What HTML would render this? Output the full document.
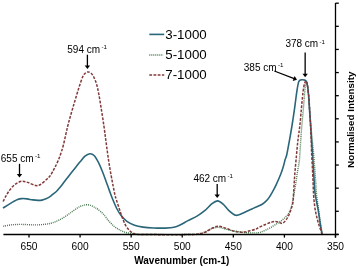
<!DOCTYPE html>
<html><head><meta charset="utf-8"><style>
html,body{margin:0;padding:0;background:#fff;}
body{width:358px;height:267px;overflow:hidden;position:relative;}
svg{position:absolute;left:0;top:0;will-change:transform;}
text{font-family:"Liberation Sans",sans-serif;fill:#000;}
.tk{font-size:10.2px;text-anchor:middle;}
.lg{font-size:13.3px;}
.an{font-size:10px;}
.sup{font-size:6.2px;}
.ti{font-size:10px;font-weight:bold;}
</style></head><body>
<svg width="358" height="267" viewBox="0 0 358 267">
<path d="M3.10,226.30 C4.45,226.07 8.22,225.22 11.20,224.90 C14.18,224.58 17.05,224.40 21.00,224.40 C24.95,224.40 30.90,224.92 34.90,224.90 C38.90,224.88 42.15,224.63 45.00,224.30 C47.85,223.97 49.67,223.60 52.00,222.90 C54.33,222.20 56.67,221.25 59.00,220.10 C61.33,218.95 63.68,217.50 66.00,216.00 C68.32,214.50 70.58,212.68 72.90,211.10 C75.22,209.52 77.68,207.55 79.90,206.50 C82.12,205.45 84.33,204.97 86.20,204.80 C88.07,204.63 89.63,205.03 91.10,205.50 C92.57,205.97 93.92,207.00 95.00,207.60 C96.08,208.20 96.23,208.03 97.60,209.10 C98.97,210.17 101.33,212.02 103.20,214.00 C105.07,215.98 106.95,218.92 108.80,221.00 C110.65,223.08 112.45,225.00 114.30,226.50 C116.15,228.00 118.03,229.02 119.90,230.00 C121.77,230.98 123.63,231.82 125.50,232.40 C127.37,232.98 129.23,233.20 131.10,233.50 C132.97,233.80 134.38,234.03 136.70,234.20 C139.02,234.37 136.12,234.45 145.00,234.50 C153.88,234.55 180.83,234.67 190.00,234.50 C199.17,234.33 197.33,234.00 200.00,233.50 C202.67,233.00 204.00,232.33 206.00,231.50 C208.00,230.67 209.83,229.18 212.00,228.50 C214.17,227.82 216.67,227.28 219.00,227.40 C221.33,227.52 223.63,228.63 226.00,229.20 C228.37,229.77 230.15,230.25 233.20,230.80 C236.25,231.35 240.58,232.15 244.30,232.50 C248.02,232.85 252.88,232.93 255.50,232.90 C258.12,232.87 258.25,232.80 260.00,232.30 C261.75,231.80 263.85,230.92 266.00,229.90 C268.15,228.88 270.82,227.42 272.90,226.20 C274.98,224.98 276.87,223.68 278.50,222.60 C280.13,221.52 281.30,220.87 282.70,219.70 C284.10,218.53 285.73,217.00 286.90,215.60 C288.07,214.20 288.88,213.00 289.70,211.30 C290.52,209.60 291.18,207.78 291.80,205.40 C292.42,203.02 292.78,200.38 293.40,197.00 C294.02,193.62 294.80,189.40 295.50,185.10 C296.20,180.80 296.95,175.38 297.60,171.20 C298.25,167.02 298.87,165.27 299.40,160.00 C299.93,154.73 300.38,145.43 300.80,139.60 C301.22,133.77 301.48,130.00 301.90,125.00 C302.32,120.00 302.88,114.43 303.30,109.60 C303.72,104.77 304.12,99.43 304.40,96.00 C304.68,92.57 304.70,91.37 305.00,89.00 C305.30,86.63 305.77,82.13 306.20,81.80 C306.63,81.47 307.13,83.97 307.60,87.00 C308.07,90.03 308.52,94.50 309.00,100.00 C309.48,105.50 309.97,113.33 310.50,120.00 C311.03,126.67 311.67,134.17 312.20,140.00 C312.73,145.83 313.08,147.63 313.70,155.00 C314.32,162.37 315.42,177.53 315.90,184.20 C316.38,190.87 316.15,190.77 316.60,195.00 C317.05,199.23 317.95,204.92 318.60,209.60 C319.25,214.28 319.92,219.03 320.50,223.10 C321.08,227.17 321.83,232.18 322.10,234.00" fill="none" stroke="#47794f" stroke-width="1.4" stroke-dasharray="1 1"/>
<path d="M3.00,208.10 C4.18,207.35 7.67,205.02 10.10,203.60 C12.53,202.18 15.62,200.43 17.60,199.60 C19.58,198.77 20.43,198.72 22.00,198.60 C23.57,198.48 25.22,198.68 27.00,198.90 C28.78,199.12 30.87,199.65 32.70,199.90 C34.53,200.15 36.45,200.37 38.00,200.40 C39.55,200.43 40.67,200.37 42.00,200.10 C43.33,199.83 44.67,199.38 46.00,198.80 C47.33,198.22 48.83,197.37 50.00,196.60 C51.17,195.83 51.90,195.10 53.00,194.20 C54.10,193.30 55.35,192.43 56.60,191.20 C57.85,189.97 59.25,188.33 60.50,186.80 C61.75,185.27 62.68,183.85 64.10,182.00 C65.52,180.15 67.25,177.92 69.00,175.70 C70.75,173.48 72.75,171.02 74.60,168.70 C76.45,166.38 78.37,163.88 80.10,161.80 C81.83,159.72 83.37,157.55 85.00,156.20 C86.63,154.85 88.38,153.82 89.90,153.70 C91.42,153.58 92.70,154.08 94.10,155.50 C95.50,156.92 96.90,159.48 98.30,162.20 C99.70,164.92 101.22,168.63 102.50,171.80 C103.78,174.97 104.83,178.02 106.00,181.20 C107.17,184.38 108.33,187.77 109.50,190.90 C110.67,194.03 111.75,196.98 113.00,200.00 C114.25,203.02 115.65,206.40 117.00,209.00 C118.35,211.60 119.45,213.53 121.10,215.60 C122.75,217.67 124.67,219.80 126.90,221.40 C129.13,223.00 131.82,224.25 134.50,225.20 C137.18,226.15 139.82,226.63 143.00,227.10 C146.18,227.57 149.93,227.83 153.60,228.00 C157.27,228.17 161.60,228.22 165.00,228.10 C168.40,227.98 171.33,227.90 174.00,227.30 C176.67,226.70 178.67,225.62 181.00,224.50 C183.33,223.38 185.33,222.00 188.00,220.60 C190.67,219.20 194.17,217.80 197.00,216.10 C199.83,214.40 202.50,212.48 205.00,210.40 C207.50,208.32 209.90,205.18 212.00,203.60 C214.10,202.02 215.75,200.82 217.60,200.90 C219.45,200.98 221.25,202.52 223.10,204.10 C224.95,205.68 226.60,208.53 228.70,210.40 C230.80,212.27 233.37,214.83 235.70,215.30 C238.03,215.77 240.65,213.97 242.70,213.20 C244.75,212.43 246.45,211.42 248.00,210.70 C249.55,209.98 250.63,209.52 252.00,208.90 C253.37,208.28 254.57,207.73 256.20,207.00 C257.83,206.27 260.17,205.48 261.80,204.50 C263.43,203.52 264.80,202.25 266.00,201.10 C267.20,199.95 267.92,199.15 269.00,197.60 C270.08,196.05 271.33,193.88 272.50,191.80 C273.67,189.72 274.62,188.07 276.00,185.10 C277.38,182.13 279.53,177.25 280.80,174.00 C282.07,170.75 282.90,167.93 283.60,165.60 C284.30,163.27 284.48,161.77 285.00,160.00 C285.52,158.23 285.93,158.40 286.70,155.00 C287.47,151.60 288.70,144.60 289.60,139.60 C290.50,134.60 291.30,130.00 292.10,125.00 C292.90,120.00 293.72,114.43 294.40,109.60 C295.08,104.77 295.73,99.42 296.20,96.00 C296.67,92.58 296.82,91.37 297.20,89.10 C297.58,86.83 298.08,83.87 298.50,82.40 C298.92,80.93 299.15,80.75 299.70,80.30 C300.25,79.85 301.03,79.75 301.80,79.70 C302.57,79.65 303.60,79.80 304.30,80.00 C305.00,80.20 305.47,79.95 306.00,80.90 C306.53,81.85 307.07,83.18 307.50,85.70 C307.93,88.22 308.27,92.02 308.60,96.00 C308.93,99.98 309.17,104.77 309.50,109.60 C309.83,114.43 310.27,120.00 310.60,125.00 C310.93,130.00 311.17,134.60 311.50,139.60 C311.83,144.60 312.27,149.93 312.60,155.00 C312.93,160.07 313.20,165.13 313.50,170.00 C313.80,174.87 314.10,180.03 314.40,184.20 C314.70,188.37 314.68,190.77 315.30,195.00 C315.92,199.23 317.27,204.73 318.10,209.60 C318.93,214.47 319.65,220.17 320.30,224.20 C320.95,228.23 321.72,232.20 322.00,233.80" fill="none" stroke="#2a6679" stroke-width="1.6"/>
<path d="M3.10,201.50 C3.67,200.42 5.33,196.98 6.50,195.00 C7.67,193.02 8.67,191.37 10.10,189.60 C11.53,187.83 13.18,185.78 15.10,184.40 C17.02,183.02 19.50,181.63 21.60,181.30 C23.70,180.97 25.37,181.70 27.70,182.40 C30.03,183.10 33.47,185.15 35.60,185.50 C37.73,185.85 38.68,185.50 40.50,184.50 C42.32,183.50 44.92,180.92 46.50,179.50 C48.08,178.08 48.92,177.42 50.00,176.00 C51.08,174.58 52.17,172.45 53.00,171.00 C53.83,169.55 54.25,168.80 55.00,167.30 C55.75,165.80 56.68,163.85 57.50,162.00 C58.32,160.15 58.92,159.03 59.90,156.20 C60.88,153.37 62.12,149.93 63.40,145.00 C64.68,140.07 66.27,131.97 67.60,126.60 C68.93,121.23 70.15,117.20 71.40,112.80 C72.65,108.40 73.85,104.38 75.10,100.20 C76.35,96.02 77.63,91.60 78.90,87.70 C80.17,83.80 81.60,79.25 82.70,76.80 C83.80,74.35 84.58,73.82 85.50,73.00 C86.42,72.18 87.28,71.87 88.20,71.90 C89.12,71.93 90.12,72.43 91.00,73.20 C91.88,73.97 92.58,74.72 93.50,76.50 C94.42,78.28 95.58,80.78 96.50,83.90 C97.42,87.02 98.17,90.80 99.00,95.20 C99.83,99.60 100.67,105.07 101.50,110.30 C102.33,115.53 103.28,121.63 104.00,126.60 C104.72,131.57 105.23,135.87 105.80,140.10 C106.37,144.33 106.87,148.18 107.40,152.00 C107.93,155.82 108.42,159.30 109.00,163.00 C109.58,166.70 110.23,170.48 110.90,174.20 C111.57,177.92 112.32,181.82 113.00,185.30 C113.68,188.78 114.43,192.65 115.00,195.10 C115.57,197.55 115.70,197.78 116.40,200.00 C117.10,202.22 118.27,205.60 119.20,208.40 C120.13,211.20 120.95,214.02 122.00,216.80 C123.05,219.58 124.22,222.78 125.50,225.10 C126.78,227.42 128.30,229.30 129.70,230.70 C131.10,232.10 132.50,232.87 133.90,233.50 C135.30,234.13 136.25,234.32 138.10,234.50 C139.95,234.68 136.35,234.58 145.00,234.60 C153.65,234.62 181.17,234.68 190.00,234.60 C198.83,234.52 195.50,234.48 198.00,234.10 C200.50,233.72 202.67,233.27 205.00,232.30 C207.33,231.33 209.78,229.32 212.00,228.30 C214.22,227.28 215.97,226.20 218.30,226.20 C220.63,226.20 223.52,227.50 226.00,228.30 C228.48,229.10 231.07,230.38 233.20,231.00 C235.33,231.62 236.95,231.83 238.80,232.00 C240.65,232.17 242.45,232.20 244.30,232.00 C246.15,231.80 248.03,231.27 249.90,230.80 C251.77,230.33 253.98,229.77 255.50,229.20 C257.02,228.63 257.25,228.23 259.00,227.40 C260.75,226.57 263.92,225.08 266.00,224.20 C268.08,223.32 269.88,222.57 271.50,222.10 C273.12,221.63 274.42,221.35 275.70,221.40 C276.98,221.45 278.08,222.07 279.20,222.40 C280.32,222.73 281.27,223.80 282.40,223.40 C283.53,223.00 284.93,221.37 286.00,220.00 C287.07,218.63 287.98,216.93 288.80,215.20 C289.62,213.47 290.22,211.70 290.90,209.60 C291.58,207.50 292.45,205.37 292.90,202.60 C293.35,199.83 293.38,196.27 293.60,193.00 C293.82,189.73 294.00,186.17 294.20,183.00 C294.40,179.83 294.43,178.50 294.80,174.00 C295.17,169.50 295.87,161.73 296.40,156.00 C296.93,150.27 297.43,144.60 298.00,139.60 C298.57,134.60 299.25,131.00 299.80,126.00 C300.35,121.00 300.85,114.43 301.30,109.60 C301.75,104.77 302.17,100.27 302.50,97.00 C302.83,93.73 302.97,92.23 303.30,90.00 C303.63,87.77 304.07,85.15 304.50,83.60 C304.93,82.05 305.43,80.58 305.90,80.70 C306.37,80.82 306.93,82.62 307.30,84.30 C307.67,85.98 307.82,88.52 308.10,90.80 C308.38,93.08 308.75,94.87 309.00,98.00 C309.25,101.13 309.35,105.10 309.60,109.60 C309.85,114.10 310.23,120.00 310.50,125.00 C310.77,130.00 311.00,134.60 311.20,139.60 C311.40,144.60 311.48,150.00 311.70,155.00 C311.92,160.00 312.27,165.02 312.50,169.60 C312.73,174.18 312.92,178.27 313.10,182.50 C313.28,186.73 313.33,191.05 313.60,195.00 C313.87,198.95 314.23,202.77 314.70,206.20 C315.17,209.63 315.70,212.50 316.40,215.60 C317.10,218.70 317.93,221.67 318.90,224.80 C319.87,227.93 321.65,232.80 322.20,234.40" fill="none" stroke="#833838" stroke-width="1.5" stroke-dasharray="2.8 1.4"/>
<line x1="3.4" y1="234.5" x2="338.6" y2="234.5" stroke="#000" stroke-width="1.3"/>
<line x1="335.5" y1="3" x2="335.5" y2="237.5" stroke="#000" stroke-width="1.3"/>
<line x1="335.5" y1="3.20" x2="338.8" y2="3.20" stroke="#000" stroke-width="1.3"/>
<line x1="335.5" y1="26.32" x2="338.8" y2="26.32" stroke="#000" stroke-width="1.3"/>
<line x1="335.5" y1="49.44" x2="338.8" y2="49.44" stroke="#000" stroke-width="1.3"/>
<line x1="335.5" y1="72.56" x2="338.8" y2="72.56" stroke="#000" stroke-width="1.3"/>
<line x1="335.5" y1="95.68" x2="338.8" y2="95.68" stroke="#000" stroke-width="1.3"/>
<line x1="335.5" y1="118.80" x2="338.8" y2="118.80" stroke="#000" stroke-width="1.3"/>
<line x1="335.5" y1="141.92" x2="338.8" y2="141.92" stroke="#000" stroke-width="1.3"/>
<line x1="335.5" y1="165.04" x2="338.8" y2="165.04" stroke="#000" stroke-width="1.3"/>
<line x1="335.5" y1="188.16" x2="338.8" y2="188.16" stroke="#000" stroke-width="1.3"/>
<line x1="335.5" y1="211.28" x2="338.8" y2="211.28" stroke="#000" stroke-width="1.3"/>
<line x1="335.5" y1="234.40" x2="338.8" y2="234.40" stroke="#000" stroke-width="1.3"/>
<line x1="29.00" y1="234.5" x2="29.00" y2="237.6" stroke="#000" stroke-width="1.3"/>
<text x="29.00" y="249.6" class="tk">650</text>
<line x1="80.08" y1="234.5" x2="80.08" y2="237.6" stroke="#000" stroke-width="1.3"/>
<text x="80.08" y="249.6" class="tk">600</text>
<line x1="131.16" y1="234.5" x2="131.16" y2="237.6" stroke="#000" stroke-width="1.3"/>
<text x="131.16" y="249.6" class="tk">550</text>
<line x1="182.24" y1="234.5" x2="182.24" y2="237.6" stroke="#000" stroke-width="1.3"/>
<text x="182.24" y="249.6" class="tk">500</text>
<line x1="233.32" y1="234.5" x2="233.32" y2="237.6" stroke="#000" stroke-width="1.3"/>
<text x="233.32" y="249.6" class="tk">450</text>
<line x1="284.40" y1="234.5" x2="284.40" y2="237.6" stroke="#000" stroke-width="1.3"/>
<text x="284.40" y="249.6" class="tk">400</text>
<line x1="335.48" y1="234.5" x2="335.48" y2="237.6" stroke="#000" stroke-width="1.3"/>
<text x="335.48" y="249.6" class="tk">350</text>
<line x1="149.3" y1="34.4" x2="164.2" y2="34.4" stroke="#2a6679" stroke-width="1.6"/>
<line x1="149.3" y1="55.0" x2="163.4" y2="55.0" stroke="#47794f" stroke-width="1.3" stroke-dasharray="1 1"/>
<line x1="149.3" y1="74.9" x2="164.2" y2="74.9" stroke="#833838" stroke-width="1.5" stroke-dasharray="2.8 1.4"/>
<text x="165.3" y="39.00" class="lg">3-1000</text>
<text x="165.3" y="59.00" class="lg">5-1000</text>
<text x="165.3" y="79.00" class="lg">7-1000</text>
<text x="67.30" y="52.60" class="an">594 cm<tspan class="sup" dx="1.3" dy="-3.8">-1</tspan></text>
<text x="0.80" y="161.60" class="an">655 cm<tspan class="sup" dx="1.3" dy="-3.8">-1</tspan></text>
<text x="193.40" y="181.60" class="an">462 cm<tspan class="sup" dx="1.3" dy="-3.8">-1</tspan></text>
<text x="285.40" y="47.30" class="an">378 cm<tspan class="sup" dx="1.3" dy="-3.8">-1</tspan></text>
<text x="243.80" y="70.60" class="an">385 cm<tspan class="sup" dx="1.3" dy="-3.8">-1</tspan></text>
<line x1="87.40" y1="54.70" x2="87.40" y2="66.00" stroke="#000" stroke-width="1.3"/><path d="M84.70,65.40 L90.10,65.40 L87.40,69.00 Z" fill="#000"/>
<line x1="19.50" y1="163.80" x2="19.50" y2="174.60" stroke="#000" stroke-width="1.3"/><path d="M16.80,174.00 L22.20,174.00 L19.50,177.60 Z" fill="#000"/>
<line x1="217.20" y1="184.00" x2="217.20" y2="195.00" stroke="#000" stroke-width="1.3"/><path d="M214.50,194.40 L219.90,194.40 L217.20,198.00 Z" fill="#000"/>
<line x1="305.15" y1="52.40" x2="305.15" y2="74.30" stroke="#000" stroke-width="1.3"/><path d="M302.45,73.70 L307.85,73.70 L305.15,77.30 Z" fill="#000"/>
<line x1="274.30" y1="71.00" x2="294.20" y2="78.63" stroke="#000" stroke-width="1.3"/>
<path d="M292.67,80.93 L294.60,75.89 L297.00,79.70 Z" fill="#000"/>
<text x="181.8" y="264.2" class="ti" text-anchor="middle">Wavenumber (cm-1)</text>
<text transform="translate(354.3,119.7) rotate(-90)" class="ti" style="font-size:9.8px" text-anchor="middle">Normalised Intensity</text>
</svg>
</body></html>
